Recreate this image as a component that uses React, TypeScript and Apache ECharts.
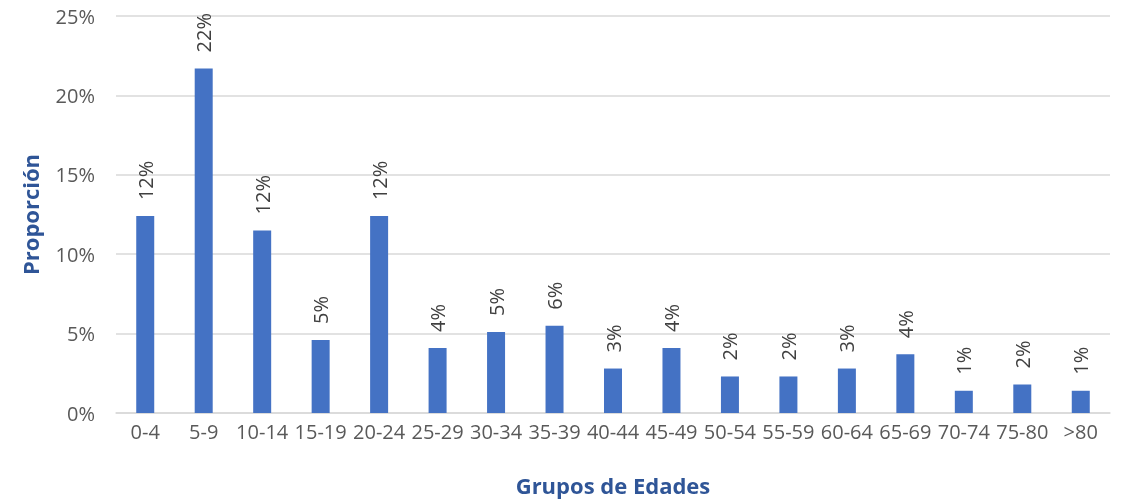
import React, { useEffect, useRef } from "react";
import * as echarts from "echarts";

const categories = ["0-4", "5-9", "10-14", "15-19", "20-24", "25-29", "30-34", "35-39", "40-44", "45-49", "50-54", "55-59", "60-64", "65-69", "70-74", "75-80", ">80"];
const values = [12.4, 21.7, 11.5, 4.6, 12.4, 4.1, 5.1, 5.5, 2.8, 4.1, 2.3, 2.3, 2.8, 3.7, 1.4, 1.8, 1.4];
const yTicks = { min: 0, max: 25, interval: 5 };

const FONT = "'Open Sans', 'Liberation Sans', sans-serif";

export default function App() {
  const ref = useRef<HTMLDivElement>(null);
  useEffect(() => {
    if (!ref.current) return;
    const chart = echarts.init(ref.current, null, { renderer: "svg" });
    chart.setOption({
      animation: false,
      grid: { left: 116, right: 14, top: 16, bottom: 86 },
      xAxis: {
        type: "category",
        data: categories,
        name: "Grupos de Edades",
        nameLocation: "middle",
        nameGap: 61,
        nameTextStyle: { color: "#2F5597", fontWeight: "bold", fontSize: 22, fontFamily: FONT },
        axisLine: { lineStyle: { color: "#D9D9D9", width: 1.5 } },
        axisTick: { show: false },
        axisLabel: { color: "#595959", fontSize: 20, fontFamily: FONT, margin: 8, interval: 0 },
      },
      yAxis: {
        type: "value",
        min: yTicks.min,
        max: yTicks.max,
        interval: yTicks.interval,
        name: "Proporción",
        nameLocation: "middle",
        nameGap: 75,
        nameTextStyle: { color: "#2F5597", fontWeight: "bold", fontSize: 22, fontFamily: FONT },
        axisLine: { show: false },
        axisTick: { show: false },
        splitLine: { lineStyle: { color: "#D9D9D9", width: 1.5 } },
        axisLabel: { color: "#595959", fontSize: 20, fontFamily: FONT, margin: 21, formatter: (v: number) => v + "%" },
      },
      series: [
        {
          type: "bar",
          data: values,
          barWidth: 18,
          itemStyle: { color: "#4472C4" },
          label: {
            show: true,
            position: "top",
            rotate: 90,
            align: "left",
            verticalAlign: "middle",
            distance: 16,
            color: "#404040",
            fontSize: 20,
            fontFamily: FONT,
            formatter: (p: any) => Math.round(p.value) + "%",
          },
        },
      ],
    });
    return () => chart.dispose();
  }, []);
  return <div ref={ref} style={{ position: "fixed", left: 0, top: 0, width: 1124, height: 501 }} />;
}
